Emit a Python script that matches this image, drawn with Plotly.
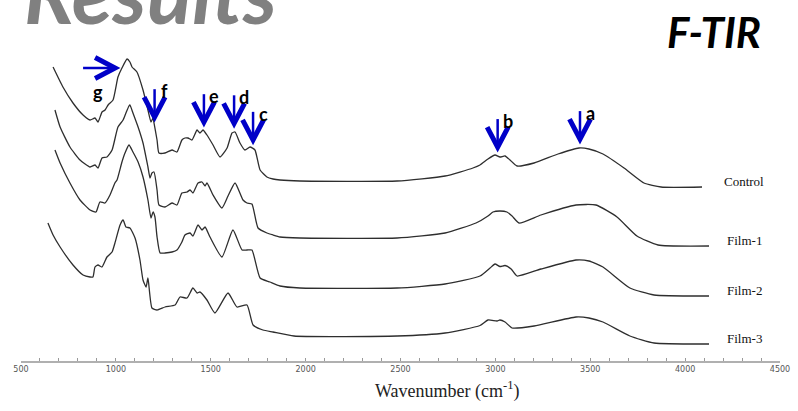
import numpy as np
import plotly.graph_objects as go

# FT-IR spectra (wavenumber in cm^-1, stacked relative transmittance)
control = [(669, 294), (721, 274), (774, 258), (827, 246), (864, 241), (890, 243), (906, 239),
           (927, 249), (943, 251), (959, 256), (985, 261), (1011, 284), (1032, 293), (1059, 302),
           (1074, 299), (1085, 294), (1111, 289), (1143, 271), (1169, 251), (1185, 239), (1196, 243),
           (1201, 238), (1217, 221), (1227, 208), (1259, 208), (1296, 211), (1322, 209), (1348, 221),
           (1364, 223), (1380, 223), (1401, 221), (1428, 231), (1443, 228), (1459, 231), (1480, 226),
           (1512, 216), (1549, 204), (1586, 213), (1612, 228), (1628, 229), (1654, 218), (1680, 211),
           (1707, 214), (1733, 211), (1760, 191), (1796, 184), (1828, 182), (1865, 181), (1970, 180),
           (2482, 180), (2735, 185), (2882, 193), (2919, 196), (2961, 202), (2998, 206), (3024, 204),
           (3051, 205), (3077, 201), (3114, 195), (3204, 198), (3330, 207), (3441, 213), (3493, 212),
           (3567, 207), (3678, 193), (3783, 178), (3873, 174), (4089, 174)]

film1 = [(679, 251), (706, 234), (758, 214), (811, 201), (864, 194), (890, 196), (906, 193),
         (927, 203), (953, 204), (980, 211), (1011, 234), (1038, 241), (1053, 248), (1069, 255),
         (1074, 256), (1090, 248), (1117, 234), (1143, 218), (1169, 194), (1180, 183), (1190, 188),
         (1201, 189), (1217, 171), (1227, 156), (1259, 154), (1296, 158), (1322, 156), (1348, 168),
         (1375, 169), (1391, 171), (1406, 168), (1433, 178), (1454, 179), (1470, 175), (1480, 178),
         (1512, 166), (1559, 153), (1591, 165), (1628, 178), (1670, 161), (1691, 158), (1717, 157),
         (1749, 133), (1796, 128), (1828, 126), (1865, 124), (1970, 123), (2482, 123), (2735, 128),
         (2898, 138), (2961, 145), (2987, 149), (3024, 150), (3061, 149), (3088, 145), (3125, 138),
         (3240, 146), (3425, 156), (3530, 156), (3641, 144), (3746, 125), (3857, 116), (4126, 115)]

film2 = [(679, 211), (706, 198), (758, 178), (811, 161), (864, 151), (895, 149), (916, 159),
         (943, 158), (969, 166), (995, 178), (1006, 181), (1032, 199), (1048, 208), (1069, 216),
         (1090, 209), (1117, 199), (1143, 184), (1169, 161), (1185, 143), (1196, 149), (1206, 144),
         (1217, 124), (1233, 108), (1259, 108), (1296, 109), (1322, 111), (1348, 119), (1364, 126),
         (1391, 128), (1406, 125), (1433, 136), (1454, 131), (1470, 134), (1496, 124), (1559, 104),
         (1617, 131), (1665, 111), (1691, 111), (1717, 111), (1760, 83), (1812, 79), (1865, 75),
         (1970, 73), (2482, 73), (2735, 77), (2919, 85), (2972, 93), (2998, 97), (3024, 94.5),
         (3051, 95.5), (3083, 92), (3114, 85), (3240, 92), (3425, 101), (3493, 100), (3567, 94),
         (3709, 73), (3836, 66), (4126, 65)]

film3 = [(642, 138), (669, 126), (706, 114), (774, 96), (827, 86), (864, 84), (879, 84), (890, 94),
         (906, 96), (927, 94), (953, 104), (980, 109), (995, 118), (1022, 136), (1038, 141),
         (1053, 134), (1074, 133), (1101, 123), (1127, 101), (1143, 81), (1159, 74), (1169, 83),
         (1190, 53), (1217, 51), (1259, 54), (1312, 56), (1338, 64), (1375, 63), (1406, 73),
         (1428, 68), (1443, 69), (1480, 61), (1522, 48), (1591, 68), (1638, 54), (1691, 56),
         (1723, 36), (1775, 31), (1828, 29), (1939, 25), (2482, 25), (2735, 28), (2919, 35.5),
         (2961, 41), (3009, 40), (3024, 41), (3051, 39), (3088, 33), (3204, 35), (3425, 44),
         (3493, 43), (3567, 39), (3709, 25), (3836, 18), (4126, 17)]

series_names = ["Control", "Film-1", "Film-2", "Film-3"]
series_data = [control, film1, film2, film3]

# Assigned absorption bands marked on the control spectrum
band_labels = ["a", "b", "c", "d", "e", "f"]
band_wn = [3446, 3012, 1723, 1623, 1464, 1204]
g_label = "g"
g_wn = 1059

tick_vals = [500, 1000, 1500, 2000, 2500, 3000, 3500, 4000, 4500]

W, H = 798, 411
ML, MR, MT, MB = 21, 18, 0, 50
X_RANGE = [500, 4500]
Y_RANGE = [0, 361]
px_per_wn = (W - ML - MR) / (X_RANGE[1] - X_RANGE[0])


def wn_span(px):
    return px / px_per_wn


LINE_COLOR = "#2e2e2e"
ARROW_COLOR = "#0000c8"

fig = go.Figure()
for name, pts in zip(series_names, series_data):
    wn, t = zip(*pts)
    fig.add_trace(go.Scatter(x=wn, y=t, mode="lines", name=name,
                             line=dict(color=LINE_COLOR, width=1.3, shape="spline", smoothing=0.5),
                             hoverinfo="skip"))

annotations = []
shapes = []

# Sample names at the right end of each trace
for name, pts in zip(series_names, series_data):
    annotations.append(dict(x=4312, y=pts[-1][1] + 6, xref="x", yref="y", text=name,
                            showarrow=False, xanchor="center", yanchor="middle",
                            font=dict(family="Liberation Serif", size=13, color="#111")))

cx, cy = zip(*control)
label_font = dict(family="Lato", size=18, color="#000", weight="bold")

# Downward band arrows
for lab, wn in zip(band_labels, band_wn):
    tip = float(np.interp(wn, cx, cy)) + 9
    shapes.append(dict(type="line", xref="x", yref="y", x0=wn, x1=wn, y0=tip + 28, y1=tip + 3,
                       line=dict(color=ARROW_COLOR, width=2.5)))
    shapes.append(dict(type="path", xref="x", yref="y",
                       path=f"M {wn - wn_span(10.5)},{tip + 20} L {wn},{tip} L {wn + wn_span(10.5)},{tip + 20}",
                       line=dict(color=ARROW_COLOR, width=5)))
    annotations.append(dict(x=wn, y=tip + 26, xref="x", yref="y", xshift=10, text=lab,
                            showarrow=False, xanchor="center", yanchor="middle", font=label_font))

# Horizontal arrow pointing at the main C-O band
g_tip_x = g_wn - wn_span(12)
g_y = max(cy) - 9
shapes.append(dict(type="line", xref="x", yref="y", x0=g_tip_x - wn_span(32), x1=g_tip_x - wn_span(3),
                   y0=g_y, y1=g_y, line=dict(color=ARROW_COLOR, width=2.5)))
shapes.append(dict(type="path", xref="x", yref="y",
                   path=f"M {g_tip_x - wn_span(20)},{g_y + 10.5} L {g_tip_x},{g_y} L {g_tip_x - wn_span(20)},{g_y - 10.5}",
                   line=dict(color=ARROW_COLOR, width=5)))
annotations.append(dict(x=g_tip_x - wn_span(17), y=g_y - 24, xref="x", yref="y", text=g_label,
                        showarrow=False, xanchor="center", yanchor="middle", font=label_font))

# Axis title
annotations.append(dict(x=(447 - ML) / (W - ML - MR), y=-(390 - 361) / 361, xref="paper", yref="paper",
                        text="Wavenumber (cm<sup>-1</sup>)", showarrow=False,
                        xanchor="center", yanchor="middle",
                        font=dict(family="Liberation Serif", size=18, color="#222")))

# Slide headings
annotations.append(dict(x=(22 - ML) / (W - ML - MR), y=(361 + 9) / 361, xref="paper", yref="paper",
                        text="<b><i>Results</i></b>", showarrow=False, xanchor="left", yanchor="middle",
                        font=dict(family="Lato", size=84, color="#808080")))
annotations.append(dict(x=(714 - ML) / (W - ML - MR), y=(361 - 32) / 361, xref="paper", yref="paper",
                        text="<b><i>F-TIR</i></b>", showarrow=False, xanchor="center", yanchor="middle",
                        font=dict(family="Lato", size=42, color="#000")))

fig.update_layout(
    width=W, height=H,
    margin=dict(l=ML, r=MR, t=MT, b=MB),
    paper_bgcolor="white", plot_bgcolor="white",
    showlegend=False,
    annotations=annotations,
    shapes=shapes,
    xaxis=dict(range=X_RANGE, tickvals=tick_vals, ticktext=[str(v) for v in tick_vals],
               showline=True, linecolor="#b0b0b0", linewidth=1.5,
               ticks="inside", ticklen=3, tickcolor="#999", tickwidth=1,
               minor=dict(dtick=100, ticks="inside", ticklen=3, tickcolor="#999"),
               tickfont=dict(family="DejaVu Sans", size=8, color="#555"),
               showgrid=False, zeroline=False, fixedrange=True),
    yaxis=dict(range=Y_RANGE, visible=False, fixedrange=True),
)

fig.write_html("out.html")
